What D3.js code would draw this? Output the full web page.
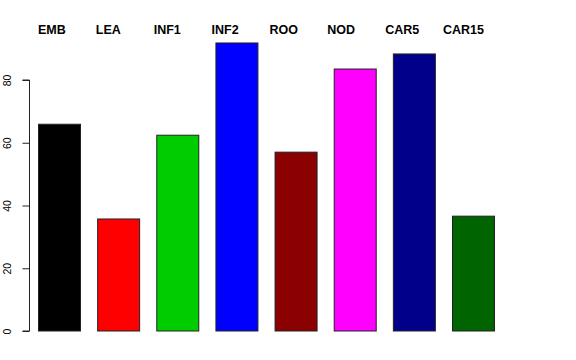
<!DOCTYPE html>
<html>
<head>
<meta charset="utf-8">
<script src="https://cdn.jsdelivr.net/npm/d3@7"></script>
<style>
  body { margin: 0; background: #fff; }
  text { font-family: "Liberation Sans", Arial, sans-serif; }
</style>
</head>
<body>
<div id="chart"></div>
<script>
// data
const categories = ["EMB", "LEA", "INF1", "INF2", "ROO", "NOD", "CAR5", "CAR15"];
const values = [65.9, 35.7, 62.4, 91.8, 57.0, 83.5, 88.3, 36.6];
const barColors = ["#000000", "#ff0000", "#00cd00", "#0000ff", "#8b0000", "#ff00ff", "#00008b", "#006400"];
const yTicks = [0, 20, 40, 60, 80];

const width = 576, height = 360;

const svg = d3.select("#chart")
    .append("svg")
    .attr("width", width)
    .attr("height", height);

// scales
const x = d3.scaleBand()
    .domain(categories)
    .range([38.5, 494.5])
    .paddingInner(0.29)
    .paddingOuter(0);

const y = d3.scaleLinear()
    .domain([0, 80])
    .range([331, 80]);

// labels above, spread a bit differently from the bars
const xLab = d3.scalePoint()
    .domain(categories)
    .range([38, 443]);

// bars
svg.selectAll("rect.bar")
    .data(categories)
    .enter()
    .append("rect")
    .attr("class", "bar")
    .attr("x", d => x(d))
    .attr("y", (d, i) => y(values[i]))
    .attr("width", x.bandwidth())
    .attr("height", (d, i) => y(0) - y(values[i]))
    .attr("fill", (d, i) => barColors[i])
    .attr("stroke", "#222")
    .attr("stroke-width", 1);

// y axis, R style: rotated labels
const yAxis = svg.append("g")
    .attr("transform", "translate(29.5,0)")
    .call(d3.axisLeft(y).tickValues(yTicks).tickSize(7).tickFormat(d3.format("d")));
yAxis.select(".domain").attr("d", `M-7,${y(0)}H0V${y(80)}H-7`).attr("stroke", "#222");
yAxis.selectAll(".tick line").attr("stroke", "#222");
yAxis.selectAll(".tick text")
    .attr("x", 0)
    .attr("y", 0)
    .attr("dy", 0)
    .attr("transform", "translate(-19,0) rotate(-90)")
    .attr("text-anchor", "middle")
    .style("font-size", "10.5px")
    .style("font-family", "Liberation Sans, Arial, sans-serif")
    .attr("fill", "#000");

// category labels on top
svg.selectAll("text.cat")
    .data(categories)
    .enter()
    .append("text")
    .attr("class", "cat")
    .attr("x", d => xLab(d))
    .attr("y", 34)
    .attr("text-anchor", "start")
    .style("font-size", "12.5px")
    .style("font-weight", "bold")
    .text(d => d);
</script>
</body>
</html>
